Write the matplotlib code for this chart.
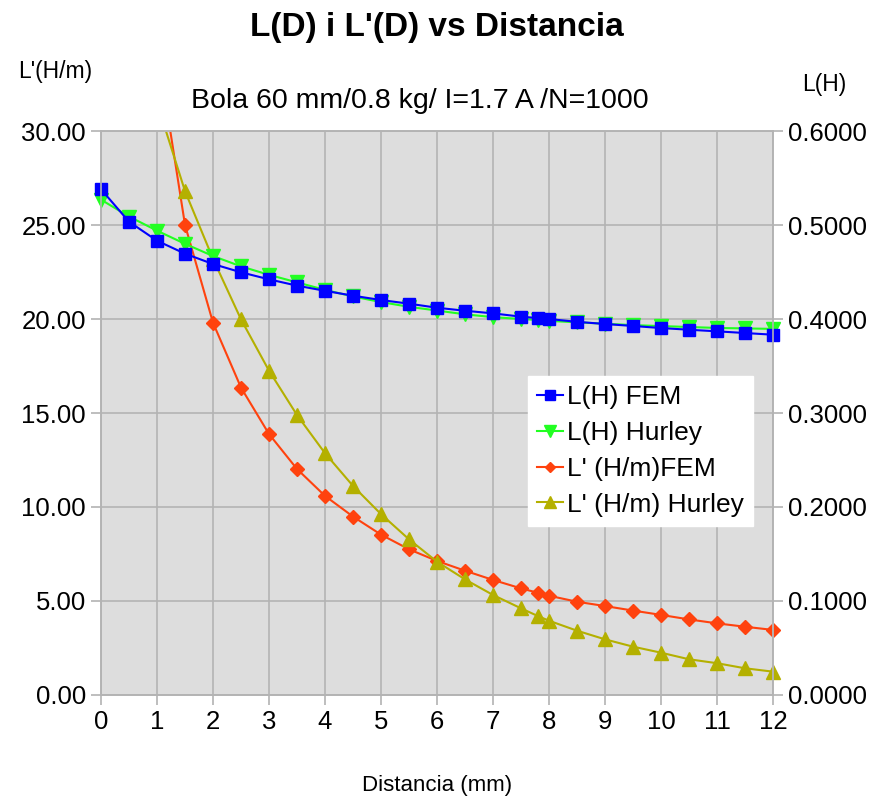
import matplotlib
matplotlib.use("Agg")
import matplotlib.pyplot as plt
from matplotlib.transforms import Bbox, TransformedBbox

plt.rcParams['font.family'] = ['Liberation Sans', 'DejaVu Sans']

# distances (mm)
dist = [0, 0.5, 1, 1.5, 2, 2.5, 3, 3.5, 4, 4.5, 5, 5.5, 6, 6.5, 7, 7.5, 7.8,
        8, 8.5, 9, 9.5, 10, 10.5, 11, 11.5, 12]

# inductance L(H), right axis
lh_fem = [0.538, 0.5035, 0.4833, 0.4695, 0.4585, 0.4497, 0.4422, 0.4355, 0.4300,
          0.4248, 0.4202, 0.4163, 0.4120, 0.4088, 0.4060, 0.4025, 0.4010,
          0.4000, 0.3970, 0.3947, 0.3926, 0.3904, 0.3886, 0.3869, 0.3851, 0.3833]
lh_hurley = [0.527, 0.509, 0.494, 0.480, 0.467, 0.456, 0.447, 0.439, 0.431,
             0.424, 0.418, 0.413, 0.409, 0.405, 0.402, 0.400, 0.399,
             0.398, 0.3965, 0.395, 0.3935, 0.3925, 0.3915, 0.3905, 0.390, 0.3895]

# derivative L'(H/m), left axis
dl_fem = [80.0, 52.0, 34.5, 25.0, 19.8, 16.35, 13.88, 12.02, 10.59, 9.49, 8.53,
          7.75, 7.13, 6.61, 6.12, 5.67, 5.44, 5.28, 4.96, 4.73, 4.49, 4.26,
          4.02, 3.81, 3.63, 3.46]
dl_hurley = [70.0, 45.0, 31.5, 26.8, 23.2, 19.98, 17.25, 14.89, 12.86, 11.12, 9.62,
             8.28, 7.09, 6.15, 5.32, 4.61, 4.20, 3.95, 3.42, 2.96, 2.57, 2.25,
             1.90, 1.69, 1.42, 1.24]

x_ticks = list(range(0, 13))
left_ticks = [0, 5, 10, 15, 20, 25, 30]
right_ticks = [0, 0.1, 0.2, 0.3, 0.4, 0.5, 0.6]

grid_col = "#b3b3b3"

fig = plt.figure(figsize=(8.74, 7.99), dpi=100)
ax = fig.add_axes([0.1156, 0.1302, 0.7688, 0.7058])
ax.set_facecolor("#dddddd")
ax2 = ax.twinx()

l3, = ax.plot(dist, dl_fem, color="#ff420e", lw=1.5, marker="D", markersize=7,
              label="L' (H/m)FEM")
l4, = ax.plot(dist, dl_hurley, color="#b4b000", lw=1.5, marker="^", markersize=10,
              label="L' (H/m) Hurley")
l2, = ax2.plot(dist, lh_hurley, color="#22ff22", lw=1.5, marker="v", markersize=10.5,
               label="L(H) Hurley")
l1, = ax2.plot(dist, lh_fem, color="#0000ff", lw=1.5, marker="s", markersize=8.5,
               label="L(H) FEM")

# clip only at top/bottom so edge markers stay whole
for a, lines in ((ax, (l3, l4)), (ax2, (l1, l2))):
    box = TransformedBbox(Bbox([[-0.05, 0.0], [1.05, 1.0]]), a.transAxes)
    for ln in lines:
        ln.set_clip_box(box)

ax.set_xlim(0, 12)
ax.set_ylim(0, 30)
ax2.set_ylim(0, 0.6)
ax.set_xticks(x_ticks)
ax.set_yticks(left_ticks)
ax.set_yticklabels(["%.2f" % v for v in left_ticks])
ax2.set_yticks(right_ticks)
ax2.set_yticklabels(["%.4f" % v for v in right_ticks])

ax.grid(True, color=grid_col, lw=1.2)
ax.set_axisbelow(True)
for a in (ax, ax2):
    for s in a.spines.values():
        s.set_color(grid_col)
        s.set_linewidth(1.2)
ax.tick_params(axis="both", labelsize=18.5, length=7, color=grid_col, width=1.2)
ax.tick_params(axis="y", pad=4)
ax.tick_params(axis="x", pad=4)
ax2.tick_params(axis="y", labelsize=18.5, length=7, color=grid_col, width=1.2, pad=4)

fig.text(0.5, 0.966, "L(D) i L'(D) vs Distancia", ha="center", va="center",
         fontsize=24, fontweight="bold")
fig.text(0.4805, 0.874, "Bola 60 mm/0.8 kg/ I=1.7 A /N=1000", ha="center",
         va="center", fontsize=20.5)
fig.text(0.063, 0.911, "L'(H/m)", ha="center", va="center", fontsize=16.5)
fig.text(0.943, 0.894, "L(H)", ha="center", va="center", fontsize=16.5)
fig.text(0.5, 0.017, "Distancia (mm)", ha="center", va="center", fontsize=16)

leg = ax2.legend(handles=[l1, l2, l3, l4], loc="upper left",
                 bbox_to_anchor=(0.635, 0.566), fontsize=19, frameon=True,
                 fancybox=False, edgecolor="white", framealpha=1.0,
                 handlelength=1.0, handletextpad=0.15, labelspacing=0.45,
                 borderpad=0.35, borderaxespad=0.0, markerscale=0.8)

fig.savefig("out.png", dpi=100)
